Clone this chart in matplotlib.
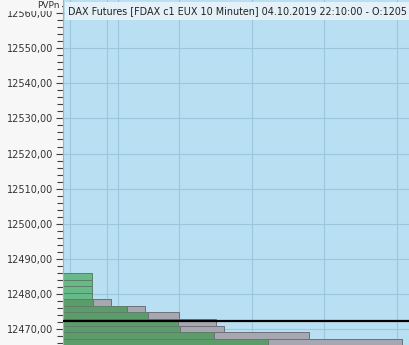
import matplotlib
matplotlib.use("Agg")
import matplotlib.pyplot as plt
from matplotlib.patches import Rectangle
from matplotlib.ticker import MultipleLocator, FuncFormatter

# ---- data ----
price_levels = [12485.0, 12483.1, 12481.25, 12479.4, 12477.5, 12475.6,
                12473.8, 12471.9, 12470.0, 12468.1, 12466.2]
green_vol = [29.3, 29.3, 29.3, 29.3, 29.7, 64.3, 84.7, 114.7, 117.0, 151.0, 204.7]
grey_vol = [0, 0, 0, 0, 18.0, 17.4, 31.6, 38.0, 43.7, 94.7, 134.0]
is_light = [True, True, True, True, False, False, False, False, False, False, False]
poc_price = 12472.3
vgrid = [7, 44, 55, 116, 189, 261, 334]
title = "DAX Futures [FDAX c1 EUX 10 Minuten] 04.10.2019 22:10:00 - O:1205"
bar_height = 1.86

W, H = 409, 345
fig = plt.figure(figsize=(W / 100, H / 100), dpi=100)
fig.patch.set_facecolor("#f7f7f7")
ax = fig.add_axes([63 / W, 0, (W - 63) / W, 1])
ax.set_facecolor("#b9dff2")

ax.set_xlim(0, W - 63)
ax.set_ylim(12465.44, 12563.75)

ax.yaxis.set_major_locator(MultipleLocator(10))
ax.yaxis.set_minor_locator(MultipleLocator(2))
ax.yaxis.set_major_formatter(FuncFormatter(lambda v, p: f"{v:.2f}".replace(".", ",")))
ax.tick_params(axis="y", which="major", length=5, width=0.8, color="#404040",
               labelsize=7, labelcolor="#333333", pad=2)
ax.tick_params(axis="y", which="minor", length=4, width=0.8, color="#404040")
ax.set_xticks([])
for s in ["top", "right", "bottom"]:
    ax.spines[s].set_visible(False)
ax.spines["left"].set_color("#9ab4c4")

ax.grid(axis="y", which="major", color="#9cc6dc", lw=0.8, zorder=0)
for xv in vgrid:
    ax.axvline(xv, color="#9cc6dc", lw=0.8, zorder=0)
ax.set_axisbelow(True)

light_c = "#67ba88"
dark_c = "#5c9c6a"
grey_c = "#a7a7b1"
for p, g, gr, lt in zip(price_levels, green_vol, grey_vol, is_light):
    ax.barh(p, g, height=bar_height, left=0, color=light_c if lt else dark_c,
            edgecolor="#5d7f68", lw=0.7, zorder=2)
    if gr > 0:
        ax.barh(p, gr, height=bar_height, left=g, color=grey_c,
                edgecolor="#6f6f78", lw=0.7, zorder=2)

ax.axhline(poc_price, color="black", lw=1.6, zorder=3)

# title box
fig.add_artist(Rectangle((65 / W, 1 - 20 / H), (W - 65) / W, 18 / H,
                         transform=fig.transFigure, facecolor="#e8f3f9",
                         edgecolor="none", alpha=0.95, zorder=5))
fig.text(68 / W, 1 - 11.5 / H, title, fontsize=6.9, color="#222222",
         va="center", ha="left", zorder=6)

# PVPn label box
fig.add_artist(Rectangle((0, 1 - 11 / H), 62 / W, 11 / H,
                         transform=fig.transFigure, facecolor="#f7f7f7",
                         edgecolor="none", zorder=5))
fig.text(60 / W, 1 - 5.5 / H, "PVPn", fontsize=6.5, color="#333333",
         va="center", ha="right", zorder=6)

fig.savefig("out.png", dpi=100, facecolor=fig.get_facecolor())
